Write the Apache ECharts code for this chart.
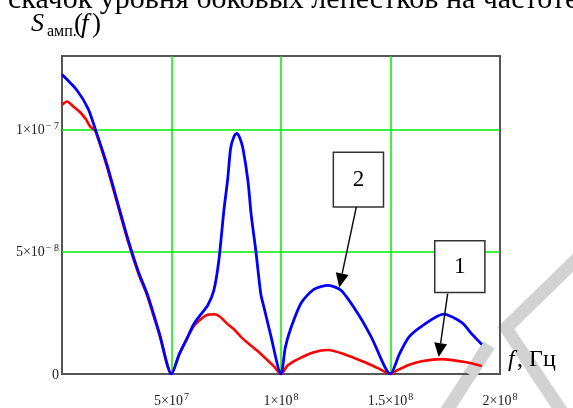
<!DOCTYPE html>
<html>
<head>
<meta charset="utf-8">
<script src="https://cdn.jsdelivr.net/npm/echarts@6/dist/echarts.min.js"></script>
<style>
html,body{margin:0;padding:0;background:#fff;}
#chart{width:573px;height:408px;}
</style>
</head>
<body>
<div id="chart"></div>
<script>
// Frequency in MHz (10^6 Hz), amplitude spectrum in units of 10^-8
const freqRed = [0, 2.3, 5, 8.3, 11, 13, 15.1, 20.6, 25.2, 30.3, 35, 39, 44.5, 50,
  53.5, 57.3, 60.1, 63.5, 66.5, 69.4, 72, 75.5, 78.6, 81.7, 86, 90.8, 96.9, 100,
  103, 107.8, 115, 121.6, 128.9, 138, 144, 150,
  153, 158.3, 164.2, 173.4, 184, 191.7];
const sRed = [11.0, 11.14, 10.95, 10.7, 10.4, 10.1, 9.95, 8.45, 6.98, 5.37, 4.08, 3.18, 1.6, 0,
  0.8, 1.48, 1.95, 2.25, 2.42, 2.44, 2.35, 2.05, 1.82, 1.52, 1.18, 0.82, 0.3, 0,
  0.35, 0.61, 0.89, 0.98, 0.81, 0.49, 0.25, 0,
  0.15, 0.37, 0.52, 0.61, 0.49, 0.33];

const freqBlue = [0, 6.9, 11.9, 15.1, 20.6, 25.2, 30.3, 35, 39, 44.5, 50,
  53.5, 57.3, 60.1, 63.5, 66.5, 69.3, 71.6, 73.9, 75.7, 77, 78.5, 79.8, 81.2, 82.6, 84.9, 86.4, 88.5, 90.8, 92.3, 95, 100,
  102, 104.6, 109.2, 115, 121.6, 127.5, 135.3, 141.3, 150,
  154, 158.3, 164.2, 174.2, 182.6, 187.2, 191.7];
const sBlue = [12.24, 11.59, 10.85, 10.04, 8.54, 7.07, 5.45, 4.15, 3.25, 1.65, 0,
  0.8, 1.5, 2.03, 2.45, 2.8, 3.41, 4.63, 6.67, 8.0, 9.23, 9.7, 9.84, 9.65, 9.23, 7.9, 6.5, 5.04, 3.26, 2.7, 1.7, 0,
  1.1, 1.9, 2.9, 3.46, 3.62, 3.41, 2.44, 1.5, 0,
  0.8, 1.5, 1.95, 2.45, 2.1, 1.63, 1.21];

// Tick labels
const xTickValues = [50, 100, 150, 200];
const xTickMant = ['5×10', '1×10', '1.5×10', '2×10'];
const xTickExp = ['7', '8', '8', '8'];
const yTickValues = [0, 5, 10];
const yTickMant = ['0', '5×10', '1×10'];
const yTickExp = ['', '− 8', '− 7'];

// Annotations (data coords): box corners, arrow start and tip
const annoLabels = ['2', '1'];
const annoBoxes = [[123.9, 9.07, 146.8, 6.83], [170.2, 5.45, 193.1, 3.33]];
const annoArrowStart = [[134.4, 6.83], [176.1, 3.29]];
const annoArrowTip = [[126.6, 3.54], [172.0, 0.69]];

const SERIF = '"Liberation Serif","DejaVu Serif",serif';

const chart = echarts.init(document.getElementById('chart'), null, {renderer: 'canvas'});

function zip(a, b) { return a.map((v, i) => [v, b[i]]); }

const labelRich = {
  m: {fontFamily: SERIF, fontSize: 14, color: '#222', lineHeight: 16, padding: [6, 0, 0, 0], verticalAlign: 'bottom'},
  e: {fontFamily: SERIF, fontSize: 10, color: '#222', lineHeight: 11, verticalAlign: 'top', padding: [0, 0, 0, 1]}
};

const option = {
  animation: false,
  backgroundColor: '#ffffff',
  grid: {left: 62, right: 73, top: 56, bottom: 31, show: true, borderColor: '#555555', borderWidth: 2, backgroundColor: 'transparent'},
  xAxis: {
    type: 'value', min: 0, max: 200, interval: 50,
    axisLine: {show: false}, axisTick: {show: false},
    splitLine: {show: true, showMinLine: false, showMaxLine: false, lineStyle: {color: '#00ee00', width: 1.5}},
    axisLabel: {
      margin: 18, showMinLabel: false, showMaxLabel: true,
      formatter: function (v) {
        const i = xTickValues.indexOf(v);
        if (i < 0) return '';
        return '{m|' + xTickMant[i] + '}{e|' + xTickExp[i] + '}';
      },
      rich: labelRich
    }
  },
  yAxis: {
    type: 'value', min: 0, max: 13, interval: 5,
    axisLine: {show: false}, axisTick: {show: false},
    splitLine: {show: true, showMinLine: false, showMaxLine: false, lineStyle: {color: '#00ee00', width: 1.5}},
    axisLabel: {
      margin: 3, showMaxLabel: false,
      formatter: function (v) {
        const i = yTickValues.indexOf(v);
        if (i < 0) return '';
        if (!yTickExp[i]) return '{m|' + yTickMant[i] + '}';
        return '{m|' + yTickMant[i] + '}{e|' + yTickExp[i] + '}';
      },
      rich: labelRich
    }
  },
  series: [
    {type: 'line', name: '1', data: zip(freqRed, sRed), showSymbol: false, symbol: 'none', smooth: 0.25,
     lineStyle: {color: '#ff0000', width: 2.6}, z: 3},
    {type: 'line', name: '2', data: zip(freqBlue, sBlue), showSymbol: false, symbol: 'none', smooth: 0.25,
     lineStyle: {color: '#0000ff', width: 2.8}, z: 4}
  ]
};
chart.setOption(option);

// Build graphic annotations
const g = [];
// watermark (decorative)
g.push({type: 'polyline', z: -10, shape: {points: [[580, 256], [506, 328], [562, 412]]},
  style: {stroke: '#d2d2d2', lineWidth: 13, fill: null, lineJoin: 'miter'}, silent: true});
g.push({type: 'line', z: -10, shape: {x1: 489, y1: 345, x2: 446, y2: 412},
  style: {stroke: '#d2d2d2', lineWidth: 13}, silent: true});
g.push({type: 'line', z: 1, shape: {x1: 489, y1: 345, x2: 470, y2: 375},
  style: {stroke: '#d2d2d2', lineWidth: 13, lineCap: 'butt'}, silent: true});

// Top document text (cut off)
g.push({type: 'text', x: 8, y: 0, z: 50,
  style: {text: 'скачок уровня боковых лепестков на частоте', font: '30px ' + SERIF, fill: '#000', verticalAlign: 'middle', align: 'left'}});

// Y axis title S_амп.(f)
g.push({type: 'text', x: 31, y: 24, z: 50, style: {text: 'S', font: 'italic 26px ' + SERIF, fill: '#000', verticalAlign: 'middle'}});
g.push({type: 'text', x: 47, y: 32, z: 50, style: {text: 'амп.', font: '16px ' + SERIF, fill: '#000', verticalAlign: 'middle'}});
g.push({type: 'text', x: 74, y: 25, z: 50, style: {text: '(', font: '27px ' + SERIF, fill: '#000', verticalAlign: 'middle'}});
g.push({type: 'text', x: 81, y: 25, z: 50, style: {text: 'f', font: 'italic 27px ' + SERIF, fill: '#000', verticalAlign: 'middle'}});
g.push({type: 'text', x: 92, y: 25, z: 50, style: {text: ')', font: '27px ' + SERIF, fill: '#000', verticalAlign: 'middle'}});

// X axis title f, Гц
g.push({type: 'text', x: 508, y: 360, z: 50, style: {text: 'f', font: 'italic 24px ' + SERIF, fill: '#000', verticalAlign: 'middle'}});
g.push({type: 'text', x: 517, y: 360, z: 50, style: {text: ', Гц', font: '24px ' + SERIF, fill: '#000', verticalAlign: 'middle'}});

function px(p) { return chart.convertToPixel({gridIndex: 0}, p); }

for (let i = 0; i < annoLabels.length; i++) {
  const b = annoBoxes[i];
  const p1 = px([b[0], b[1]]), p2 = px([b[2], b[3]]);
  g.push({type: 'rect', z: 100, shape: {x: p1[0], y: p1[1], width: p2[0] - p1[0], height: p2[1] - p1[1]},
    style: {fill: '#fff', stroke: '#333', lineWidth: 1.5}});
  g.push({type: 'text', z: 101, x: (p1[0] + p2[0]) / 2, y: (p1[1] + p2[1]) / 2,
    style: {text: annoLabels[i], font: '23px ' + SERIF, fill: '#000', align: 'center', verticalAlign: 'middle'}});
  const s = px(annoArrowStart[i]), t = px(annoArrowTip[i]);
  const dx = t[0] - s[0], dy = t[1] - s[1], L = Math.hypot(dx, dy);
  const ux = dx / L, uy = dy / L, hl = 14, hw = 6.5;
  const bx = t[0] - ux * hl, by = t[1] - uy * hl;
  g.push({type: 'line', z: 100, shape: {x1: s[0], y1: s[1], x2: bx, y2: by}, style: {stroke: '#111', lineWidth: 1.5}});
  g.push({type: 'polygon', z: 100, shape: {points: [[t[0], t[1]], [bx - uy * hw, by + ux * hw], [bx + uy * hw, by - ux * hw]]},
    style: {fill: '#000'}});
}
chart.setOption({graphic: g});
</script>
</body>
</html>
